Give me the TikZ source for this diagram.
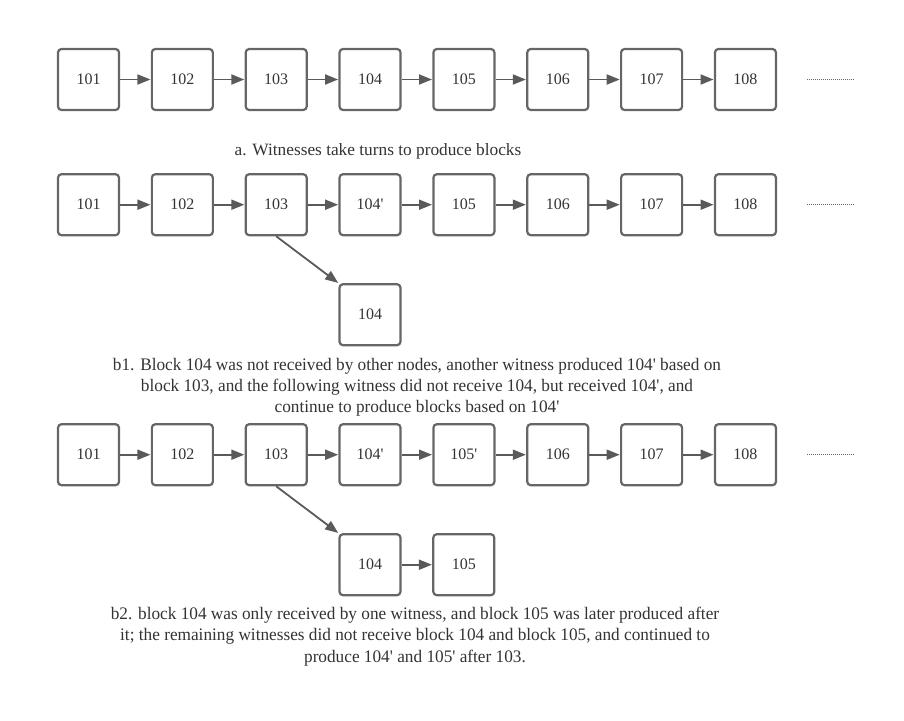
\documentclass[tikz,border=0pt]{standalone}
\usepackage{fontspec}
\setmainfont{Liberation Serif}
\newfontfamily\plainfont{Liberation Serif}[Ligatures=ResetAll]
\newfontfamily\condfont{Liberation Serif}[Ligatures=ResetAll,FakeStretch=0.98]
\usetikzlibrary{arrows.meta}
\definecolor{boxline}{HTML}{666666}
\definecolor{arrowc}{HTML}{5A5A5A}
\definecolor{txt}{HTML}{333333}
\begin{document}
\begin{tikzpicture}[x=1pt,y=-1pt,
  blk/.style={draw=boxline,line width=2.2pt,rounded corners=3.5pt,fill=white,
    minimum width=61pt,minimum height=61pt,inner sep=0pt,text=txt,
    font=\plainfont\fontsize{16}{18}\selectfont},
  link/.style={draw=arrowc,line width=1.8pt,-{Triangle[length=13pt,width=10pt]},shorten >=0.3pt},
  dots/.style={draw=boxline,line width=0.8pt,dash pattern=on 1pt off 1pt},
  captxt/.style={align=center,text=txt,font=\plainfont\fontsize{17.3}{21}\selectfont,inner sep=0pt},
  capcond/.style={align=center,text=txt,font=\condfont\fontsize{17.6}{21.2}\selectfont,inner sep=0pt}]
\useasboundingbox (0,0) rectangle (904,720);
% row a
\foreach \i/\t [count=\k from 0] in {1/101,2/102,3/103,4/104,5/105,6/106,7/107,8/108}{
  \node[blk] (a\i) at (88.5+93.85*\k,79.5) {\t};
}
\foreach \i/\j in {1/2,2/3,3/4,4/5,5/6,6/7,7/8}{\draw[link] (a\i) -- (a\j);}
\coordinate (ad1) at (807,79.5); \coordinate (ad2) at (855,79.5);
\draw[dots] (ad1) -- (ad2);
\node[captxt] (capa) at (378,151) {a. Witnesses take turns to produce blocks};
% row b1
\foreach \i/\t [count=\k from 0] in {1/101,2/102,3/103,4/104',5/105,6/106,7/107,8/108}{
  \node[blk] (b\i) at (88.5+93.85*\k,204.7) {\t};
}
\foreach \i/\j in {1/2,2/3,3/4,4/5,5/6,6/7,7/8}{\draw[link] (b\i) -- (b\j);}
\node[blk] (bx) at (370,314.7) {104};
\draw[link] (b3.south) -- (bx.north west);
\coordinate (bd1) at (807,204.7); \coordinate (bd2) at (855,204.7);
\draw[dots] (bd1) -- (bd2);
\node[capcond] (capb1) at (417,387) {b1. Block 104 was not received by other nodes, another witness produced 104' based on\\
block 103, and the following witness did not receive 104, but received 104', and\\
continue to produce blocks based on 104'};
% row b2
\foreach \i/\t [count=\k from 0] in {1/101,2/102,3/103,4/104',5/105',6/106,7/107,8/108}{
  \node[blk] (c\i) at (88.5+93.85*\k,454.7) {\t};
}
\foreach \i/\j in {1/2,2/3,3/4,4/5,5/6,6/7,7/8}{\draw[link] (c\i) -- (c\j);}
\node[blk] (cx) at (370,564.7) {104};
\node[blk] (cy) at (463.8,564.7) {105};
\draw[link] (c3.south) -- (cx.north west);
\draw[link] (cx) -- (cy);
\coordinate (cd1) at (807,454.7); \coordinate (cd2) at (855,454.7);
\draw[dots] (cd1) -- (cd2);
\node[capcond] (capb2) at (415,636.5) {b2. block 104 was only received by one witness, and block 105 was later produced after\\
it; the remaining witnesses did not receive block 104 and block 105, and continued to\\
produce 104' and 105' after 103.};
\end{tikzpicture}
\end{document}
